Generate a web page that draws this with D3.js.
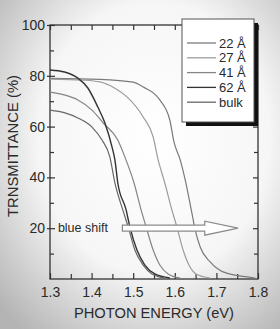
<!DOCTYPE html>
<html>
<head>
<meta charset="utf-8">
<script src="https://cdn.jsdelivr.net/npm/d3@7"></script>
<style>
  body { margin: 0; background: #fff; }
  svg { display: block; font-family: "Liberation Sans", Arial, sans-serif; }
  .axis path { display: none; }
  .axis line { stroke: #333; stroke-width: 1.2; }
  .axis text { fill: #2a2a2a; font-size: 14px; }
</style>
</head>
<body>
<svg width="280" height="329"></svg>
<script>
// data: photon energy (eV) vs transmittance (%)
var e22 = [1.300, 1.420, 1.500, 1.524, 1.564, 1.588, 1.598, 1.613, 1.625, 1.641, 1.649, 1.661, 1.685, 1.716, 1.774, 1.793];
var t22 = [79.0, 78.6, 77.5, 75.6, 70.5, 62.6, 54.0, 46.9, 39.0, 26.0, 19.3, 12.6, 6.7, 2.8, 0.8, 0.4];

var e27 = [1.300, 1.379, 1.420, 1.455, 1.485, 1.524, 1.548, 1.560, 1.576, 1.593, 1.605, 1.620, 1.634, 1.651, 1.685];
var t27 = [78.7, 78.3, 77.6, 75.2, 71.7, 63.8, 55.9, 46.9, 37.8, 27.2, 20.5, 11.4, 5.5, 2.0, 0.4];

var e41 = [1.300, 1.336, 1.367, 1.401, 1.428, 1.463, 1.480, 1.502, 1.519, 1.531, 1.548, 1.564, 1.584, 1.613];
var t41 = [73.6, 72.4, 70.5, 66.5, 61.4, 54.7, 48.0, 37.8, 27.2, 20.5, 11.4, 5.5, 2.0, 0.4];

var e62 = [1.300, 1.335, 1.367, 1.391, 1.415, 1.432, 1.449, 1.456, 1.463, 1.483, 1.492, 1.509, 1.528, 1.552, 1.588];
var t62 = [82.3, 81.5, 79.1, 75.2, 67.7, 61.4, 52.0, 46.9, 37.8, 27.2, 20.5, 11.4, 5.5, 2.0, 0.4];

var eBulk = [1.300, 1.336, 1.367, 1.401, 1.425, 1.444, 1.456, 1.475, 1.488, 1.504, 1.524, 1.545, 1.576];
var tBulk = [66.5, 65.4, 63.4, 59.8, 54.7, 48.0, 37.8, 27.2, 20.5, 11.4, 5.5, 2.0, 0.4];

var seriesNames = ["22 \u00c5", "27 \u00c5", "41 \u00c5", "62 \u00c5", "bulk"];
var seriesColors = ["#7a7a7a", "#9c9c9c", "#858585", "#333333", "#676767"];

var xTicks = [1.3, 1.4, 1.5, 1.6, 1.7, 1.8];
var xMinor = [1.35, 1.45, 1.55, 1.65, 1.75];
var yTicks = [20, 40, 60, 80, 100];
var yMinor = [10, 30, 50, 70, 90];

var series = [
    { name: seriesNames[0], color: seriesColors[0], e: e22, t: t22 },
    { name: seriesNames[1], color: seriesColors[1], e: e27, t: t27 },
    { name: seriesNames[2], color: seriesColors[2], e: e41, t: t41 },
    { name: seriesNames[3], color: seriesColors[3], e: e62, t: t62 },
    { name: seriesNames[4], color: seriesColors[4], e: eBulk, t: tBulk }
];

var svg = d3.select("svg");
var margin = { left: 50, top: 25, right: 22, bottom: 50 };
var width = 280 - margin.left - margin.right;
var height = 329 - margin.top - margin.bottom;

// background wash
var defs = svg.append("defs");
var grad = defs.append("radialGradient")
    .attr("id", "bg")
    .attr("cx", "0.55").attr("cy", "0.42").attr("r", "0.75");
grad.append("stop").attr("offset", "0").attr("stop-color", "#ffffff");
grad.append("stop").attr("offset", "0.55").attr("stop-color", "#f6f6f6");
grad.append("stop").attr("offset", "1").attr("stop-color", "#b4b4b4");
svg.append("rect").attr("width", 280).attr("height", 329).attr("fill", "url(#bg)");

var g = svg.append("g").attr("transform", "translate(" + margin.left + "," + margin.top + ")");

var x = d3.scaleLinear().domain([1.3, 1.8]).range([0, width]);
var y = d3.scaleLinear().domain([0, 100]).range([height, 0]);

//////////// AXES ////////////

g.append("g").attr("class", "axis")
    .attr("transform", "translate(0," + height + ")")
    .call(d3.axisBottom(x).tickValues(xTicks).tickSize(-6).tickPadding(8).tickFormat(d3.format(".1f")));
g.append("g").attr("class", "axis")
    .attr("transform", "translate(0," + height + ")")
    .call(d3.axisBottom(x).tickValues(xMinor).tickSize(-5).tickFormat(""));
g.append("g").attr("class", "axis")
    .call(d3.axisTop(x).tickValues(xTicks.concat(xMinor)).tickSize(-5).tickFormat(""));

g.append("g").attr("class", "axis")
    .call(d3.axisLeft(y).tickValues(yTicks).tickSize(-5).tickPadding(5));
g.append("g").attr("class", "axis")
    .call(d3.axisLeft(y).tickValues(yTicks).tickSize(3).tickFormat(""));
g.append("g").attr("class", "axis")
    .call(d3.axisLeft(y).tickValues(yMinor).tickSize(-4).tickFormat(""));
g.append("g").attr("class", "axis")
    .attr("transform", "translate(" + width + ",0)")
    .call(d3.axisRight(y).tickValues(yTicks).tickSize(-5).tickFormat(""));
g.append("g").attr("class", "axis")
    .attr("transform", "translate(" + width + ",0)")
    .call(d3.axisRight(y).tickValues(yMinor).tickSize(-4).tickFormat(""));

// plot frame
g.append("rect")
    .attr("width", width).attr("height", height)
    .attr("fill", "none").attr("stroke", "#333").attr("stroke-width", 1.3);

// axis titles (the originals are a little condensed)
svg.append("text")
    .attr("x", margin.left + width / 2).attr("y", 318)
    .attr("text-anchor", "middle")
    .attr("textLength", 160).attr("lengthAdjust", "spacingAndGlyphs")
    .style("font-size", "14px").style("fill", "#2a2a2a")
    .text("PHOTON ENERGY (eV)");
svg.append("text")
    .attr("transform", "translate(18,146) rotate(-90)")
    .attr("text-anchor", "middle")
    .attr("textLength", 142).attr("lengthAdjust", "spacingAndGlyphs")
    .style("font-size", "14px").style("fill", "#2a2a2a")
    .text("TRNSMITTANCE (%)");

//////////// CURVES ////////////

var line = d3.line()
    .x(function (d) { return x(d[0]); })
    .y(function (d) { return y(d[1]); })
    .curve(d3.curveMonotoneX);

g.append("g").selectAll("path")
    .data(series)
    .enter().append("path")
    .attr("d", function (s) { return line(d3.zip(s.e, s.t)); })
    .attr("fill", "none")
    .attr("stroke", function (s) { return s.color; })
    .attr("stroke-width", function (s) { return s.name == "62 \u00c5" ? 1.4 : 1.2; });

//////////// BLUE SHIFT ARROW ////////////

var ay = y(20);
var ax0 = x(1.474), axh = x(1.672), ax1 = x(1.752);
g.append("path")
    .attr("d", "M" + ax0 + "," + (ay - 3) + "H" + axh + "V" + (ay - 7) +
        "L" + ax1 + "," + ay + "L" + axh + "," + (ay + 7) + "V" + (ay + 3) + "H" + ax0 + "Z")
    .attr("fill", "#fff")
    .attr("stroke", "#8a8a8a")
    .attr("stroke-width", 1.2);
g.append("text")
    .attr("x", x(1.319)).attr("y", ay + 4)
    .style("font-size", "12.5px").style("fill", "#2a2a2a")
    .text("blue shift");

//////////// LEGEND ////////////

var lg = svg.append("g").attr("transform", "translate(182,19)");
lg.append("rect").attr("x", 4).attr("y", 4).attr("width", 72).attr("height", 103).attr("fill", "#111");
lg.append("rect").attr("width", 72).attr("height", 103)
    .attr("fill", "#fff").attr("stroke", "#555").attr("stroke-width", 1);

var rows = lg.selectAll("g.row")
    .data(series)
    .enter().append("g")
    .attr("class", "row")
    .attr("transform", function (d, i) { return "translate(0," + (24 + i * 14.8) + ")"; });
rows.append("line")
    .attr("x1", 5).attr("x2", 34)
    .attr("stroke", function (s) { return s.color; })
    .attr("stroke-width", 1.3);
rows.append("text")
    .attr("x", 37).attr("dy", "0.36em")
    .style("font-size", "13px").style("fill", "#2a2a2a")
    .text(function (s) { return s.name; });
</script>
</body>
</html>
